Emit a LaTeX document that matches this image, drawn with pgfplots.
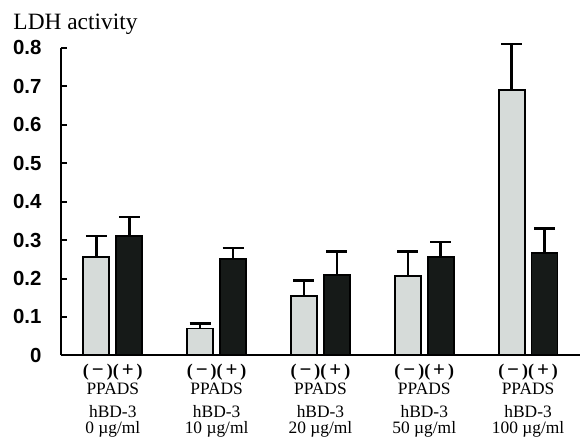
\documentclass[border=0pt]{standalone}
\usepackage{pgfplots}
\pgfplotsset{compat=1.18}
\usepackage{fontspec}
\setmainfont{Liberation Serif}
\newfontfamily\tickfont{Liberation Sans}
\definecolor{lightbar}{HTML}{D6DBD9}
\definecolor{darkbar}{HTML}{161A18}
\newcommand{\mppads}{{\fontsize{18}{16}\selectfont\bfseries(\kern3bp{\fontsize{21}{16}\selectfont −}\kern3bp)(\kern3bp{\fontsize{21}{16}\selectfont +}\kern3bp)}}
\newcommand{\lab}[1]{\mppads\\[2bp]PPADS\\[7bp]hBD-3\\#1~µg/ml}
\begin{document}
\begin{tikzpicture}
\begin{axis}[
  scale only axis,
  width=520bp, height=308bp,
  xmin=-0.5, xmax=4.5,
  ymin=0, ymax=0.8,
  axis lines=left,
  axis line style={-, line width=2bp},
  ybar=7bp,
  bar width=26bp,
  ytick={0,0.1,...,0.8},
  yticklabels={0,0.1,0.2,0.3,0.4,0.5,0.6,0.7,0.8},
  ytick style={line width=2bp, black},
  major tick length=6bp,
  tick align=inside,
  yticklabel style={font=\tickfont\bfseries\fontsize{20.5}{20}\selectfont, xshift=-16bp},
  xtick={0,1,2,3,4},
  xtick style={draw=none},
  xticklabels={{\lab{0}},{\lab{10}},{\lab{20}},{\lab{50}},{\lab{100}}},
  xticklabel style={align=center, font=\fontsize{17.5}{16}\selectfont, yshift=-5bp},
  clip=false,
  error bars/y dir=plus,
  error bars/y explicit,
  error bars/error mark=|,
  error bars/error mark options={mark size=10.5bp, line width=2.5bp, black},
  error bars/error bar style={line width=2.5bp, black},
]
\addplot[fill=lightbar, draw=black, line width=1.8bp] coordinates {
  (0,0.255) +- (0,0.055)
  (1,0.070) +- (0,0.013)
  (2,0.155) +- (0,0.040)
  (3,0.207) +- (0,0.063)
  (4,0.690) +- (0,0.120)
};
\addplot[fill=darkbar, draw=black, line width=1.8bp] coordinates {
  (0,0.310) +- (0,0.050)
  (1,0.250) +- (0,0.030)
  (2,0.210) +- (0,0.060)
  (3,0.255) +- (0,0.040)
  (4,0.267) +- (0,0.063)
};
\node[anchor=base west, font=\fontsize{23.5}{23}\selectfont, xshift=-51bp, yshift=18bp] at (rel axis cs:0,1) {LDH activity};
\end{axis}
\path ([shift={(-61bp,-84bp)}]current axis.south west) rectangle ([shift={(0bp,48bp)}]current axis.north east);
\end{tikzpicture}
\end{document}
